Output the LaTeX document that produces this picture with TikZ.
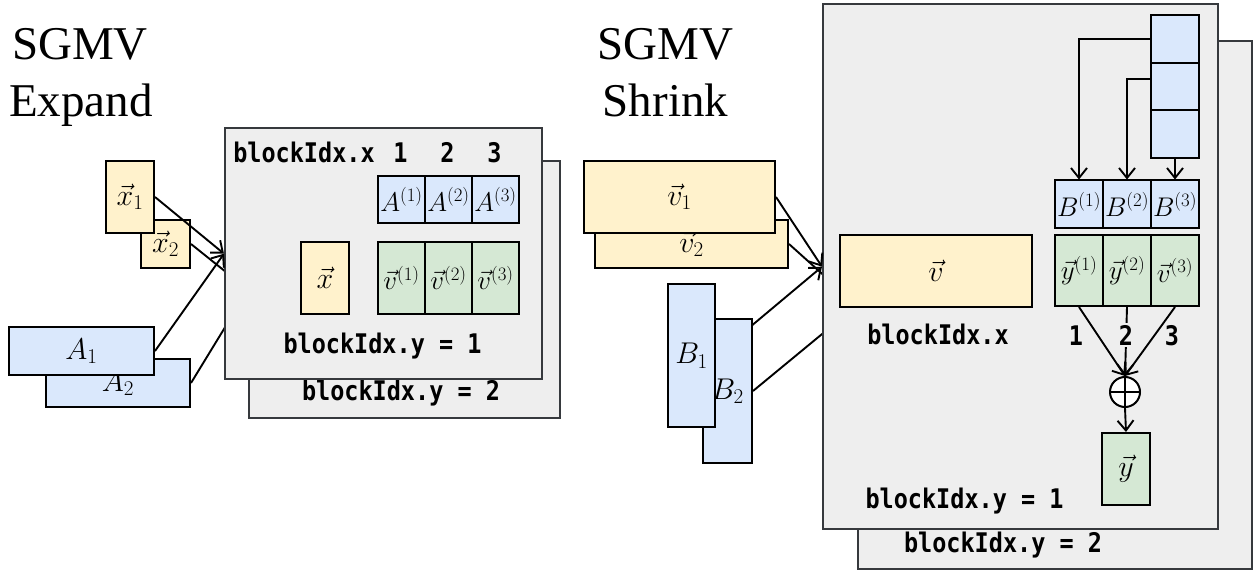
\RequirePackage{fix-cm}
\documentclass[tikz,border=0pt]{standalone}
\usepackage{fontspec}
\usetikzlibrary{arrows.meta}
\newfontfamily\titlefont{Liberation Serif}
\newfontfamily\codefont[FakeStretch=0.87]{DejaVu Sans Mono Bold}

\definecolor{blockfill}{HTML}{EEEEEE}
\definecolor{blockline}{HTML}{36393D}
\definecolor{ylw}{HTML}{FFF2CC}
\definecolor{blu}{HTML}{DAE8FC}
\definecolor{grn}{HTML}{D5E8D4}

\pgfdeclarelayer{backblock}
\pgfdeclarelayer{backlink}
\pgfdeclarelayer{frontblock}
\pgfdeclarelayer{link}
\pgfsetlayers{backblock,backlink,frontblock,link,main}

\tikzset{
  block/.style={draw=blockline, fill=blockfill, line width=2.4pt, inner sep=0pt, anchor=north west},
  cell/.style={draw=black, line width=2pt, inner sep=0pt, anchor=north west},
  bigmath/.style={font=\fontsize{30}{36}\selectfont},
  cellmath/.style={font=\fontsize{27}{32}\selectfont},
  ybox/.style={cell, fill=ylw, bigmath},
  bbox/.style={cell, fill=blu, bigmath},
  bcell/.style={cell, fill=blu, cellmath},
  gcell/.style={cell, fill=grn, cellmath},
  code/.style={font=\codefont\fontsize{27}{30}\selectfont, inner sep=0pt, anchor=base},
  title/.style={font=\titlefont\fontsize{47}{57}\selectfont, inner sep=0pt, anchor=base},
  arr/.style={line width=1.9pt, -{Straight Barb[length=10pt,width=16pt]}},
  sumnode/.style={circle, draw=black, fill=white, line width=2pt, minimum size=30pt, inner sep=0pt,
    path picture={\draw[line width=2pt] (path picture bounding box.north) -- (path picture bounding box.south)
      (path picture bounding box.west) -- (path picture bounding box.east);}},
}

\begin{document}
\begin{tikzpicture}[x=1pt, y=-1pt]
\useasboundingbox (0,0) rectangle (1253,572);

% ---------------- SGMV Expand ----------------
\node[title] (exptitleA) at (80,60) {SGMV};
\node[title] (exptitleB) at (81,117) {Expand};

\begin{pgfonlayer}{backblock}
  \node[block, minimum width=311, minimum height=257] (back1) at (248,160) {};
  \node[code] (back1lbl) at (401,400) {blockIdx.y = 2};
\end{pgfonlayer}
\begin{pgfonlayer}{frontblock}
  \node[block, minimum width=317, minimum height=251] (front1) at (224,127) {};
\end{pgfonlayer}

\node[code] (front1x) at (304,163) {blockIdx.x};
\node[code] (colA1) at (400.5,163) {1};
\node[code] (colA2) at (447.5,163) {2};
\node[code] (colA3) at (494.5,163) {3};
\node[code] (front1lbl) at (382.5,353) {blockIdx.y = 1};

\node[ybox, minimum width=49, minimum height=48] (x2box) at (140,219) {$\vec{x}_2$};
\node[ybox, minimum width=48, minimum height=72] (x1box) at (105,160) {$\vec{x}_1$};
\node[bbox, minimum width=144, minimum height=48] (A2box) at (45,358) {$A_2$};
\node[bbox, minimum width=145, minimum height=48] (A1box) at (8,326) {$A_1$};

\node[ybox, minimum width=48, minimum height=72] (xvec) at (300,241) {$\vec{x}$};
\node[bcell, minimum width=47, minimum height=47] (a1) at (377,175) {$A^{(1)}$};
\node[bcell, minimum width=47, minimum height=47] (a2) at (424,175) {$A^{(2)}$};
\node[bcell, minimum width=47, minimum height=47] (a3) at (471,175) {$A^{(3)}$};
\node[gcell, minimum width=47, minimum height=72] (c1) at (377,241) {$\vec{v}^{(1)}$};
\node[gcell, minimum width=47, minimum height=72] (c2) at (424,241) {$\vec{v}^{(2)}$};
\node[gcell, minimum width=47, minimum height=72] (c3) at (471,241) {$\vec{v}^{(3)}$};

\begin{pgfonlayer}{backlink}
  \draw[arr] (x2box.east) -- (back1.west);
  \draw[arr] (A2box.east) -- (back1.west);
\end{pgfonlayer}
\draw[arr] (x1box.east) -- (front1.west);
\draw[arr] (A1box.east) -- (front1.west);

% ---------------- SGMV Shrink ----------------
\node[title] (shrtitleA) at (665.5,60) {SGMV};
\node[title] (shrtitleB) at (665.5,117) {Shrink};

\begin{pgfonlayer}{backblock}
  \node[block, minimum width=394, minimum height=528] (back2) at (857,40) {};
  \node[code] (back2lbl) at (1003,552) {blockIdx.y = 2};
\end{pgfonlayer}
\begin{pgfonlayer}{frontblock}
  \node[block, minimum width=395, minimum height=525] (front2) at (822,3) {};
\end{pgfonlayer}

\node[ybox, minimum width=193, minimum height=48] (v2box) at (594,219) {$\vec{v}_2$};
\node[ybox, minimum width=191, minimum height=72] (v1box) at (583,160) {$\vec{v}_1$};
\node[bbox, minimum width=49, minimum height=144] (B2box) at (702,318) {$B_2$};
\node[bbox, minimum width=47, minimum height=143] (B1box) at (667,283) {$B_1$};

\node[ybox, minimum width=192, minimum height=72] (vvec) at (839,234) {$\vec{v}$};
\node[code] (front2x) at (938,344) {blockIdx.x};
\node[code] (front2lbl) at (964.5,508) {blockIdx.y = 1};

\node[cell, fill=blu, minimum width=48, minimum height=47.7] (col1) at (1150,14) {};
\node[cell, fill=blu, minimum width=48, minimum height=47.7] (col2) at (1150,61.7) {};
\node[cell, fill=blu, minimum width=48, minimum height=47.7] (col3) at (1150,109.3) {};

\node[bcell, minimum width=48, minimum height=48] (b1) at (1054,179.5) {$B^{(1)}$};
\node[bcell, minimum width=48, minimum height=48] (b2) at (1102,179.5) {$B^{(2)}$};
\node[bcell, minimum width=48, minimum height=48] (b3) at (1150,179.5) {$B^{(3)}$};
\node[gcell, minimum width=48, minimum height=71] (y1) at (1054,234) {$\vec{y}^{(1)}$};
\node[gcell, minimum width=48, minimum height=71] (y2) at (1102,234) {$\vec{y}^{(2)}$};
\node[gcell, minimum width=48, minimum height=71] (y3) at (1150,234) {$\vec{v}^{(3)}$};

\node[sumnode] (sum) at (1125,392) {};
\node[cell, fill=grn, bigmath, minimum width=48, minimum height=72] (yout) at (1101,432) {$\vec{y}$};

\begin{pgfonlayer}{backlink}
  \draw[arr] (v2box.east) -- (back2.west);
  \draw[arr] (B2box.east) -- (back2.west);
\end{pgfonlayer}
\begin{pgfonlayer}{link}
  \draw[arr] (B1box.east) -- (front2.west);
\end{pgfonlayer}
\draw[arr] (v1box.east) -- (front2.west);

% weight slices fetched into the B tiles
\draw[arr] (col1.west) -| (b1.north);
\draw[arr] ([yshift=7.5pt]col2.west) -| (b2.north);
\draw[arr] (col3.south) -- (b3.north);

% partial results reduced into the output
\draw[arr] (y1.south) -- (sum.north);
\draw[arr] (y2.south) -- (sum.north);
\draw[arr] (y3.south) -- (sum.north);
\draw[arr] (sum.south) -- (yout.north);

\node[code] (red1) at (1076,345) {1};
\node[code, fill=blockfill, inner sep=2pt] (red2) at (1126,345) {2};
\node[code] (red3) at (1172,345) {3};
\end{tikzpicture}
\end{document}
